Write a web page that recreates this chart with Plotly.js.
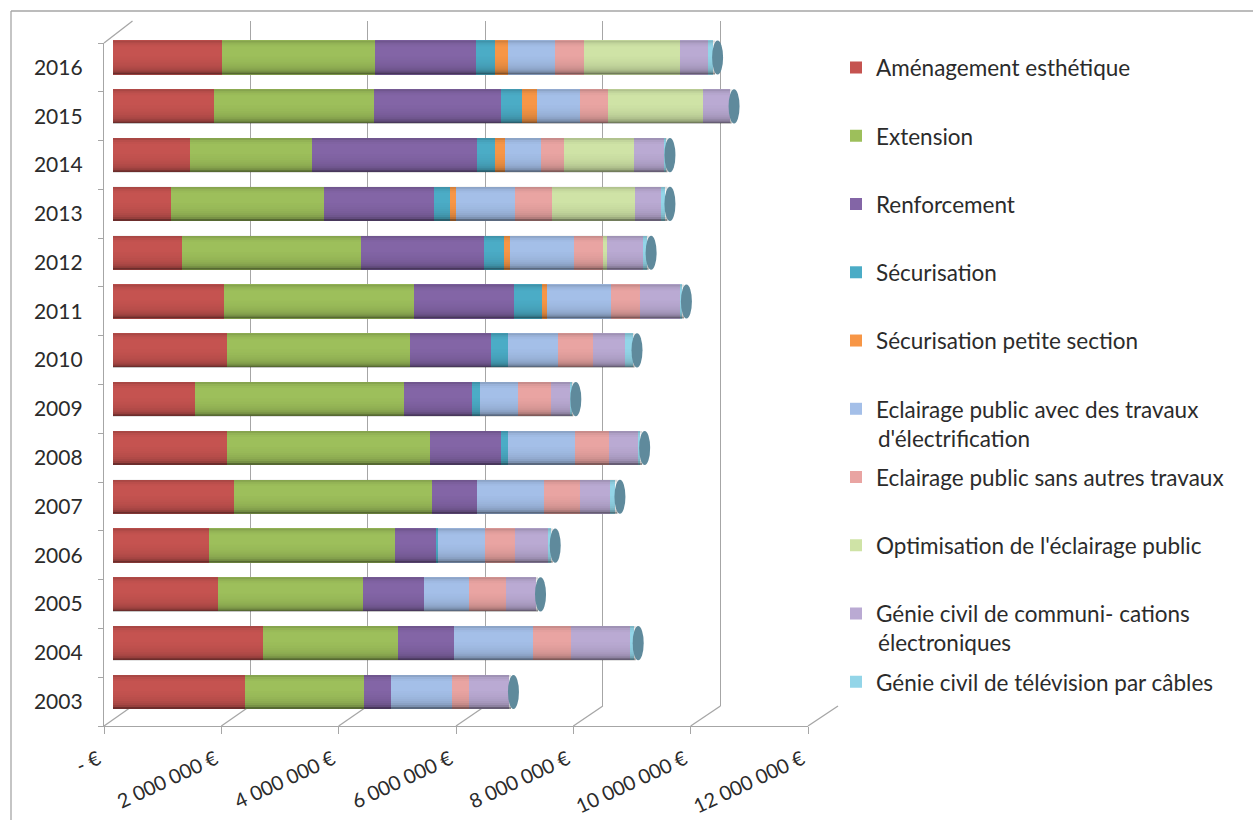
<!DOCTYPE html>
<html><head><meta charset="utf-8">
<script src="https://cdn.plot.ly/plotly-3.0.1.min.js"></script>
<style>html,body{margin:0;padding:0;background:#fff}</style></head>
<body><div id="c" style="width:1253px;height:820px"></div>
<script>
var years = ['2003','2004','2005','2006','2007','2008','2009','2010','2011','2012','2013','2014','2015','2016'];
var tickVals = [0,2000000,4000000,6000000,8000000,10000000,12000000];
var tickLabels = ['- €','2 000 000 €','4 000 000 €','6 000 000 €','8 000 000 €','10 000 000 €','12 000 000 €'];
var amenagement = [2250000,2550000,1780000,1640000,2050000,1930000,1390000,1930000,1890000,1180000,980000,1310000,1720000,1860000];
var extension = [2010000,2300000,2470000,3150000,3370000,3450000,3550000,3120000,3220000,3040000,2600000,2080000,2710000,2600000];
var renforcement = [470000,940000,1030000,710000,770000,1220000,1160000,1370000,1700000,2080000,1870000,2790000,2170000,1710000];
var securisation = [0,0,0,30000,0,120000,140000,300000,490000,350000,270000,320000,350000,330000];
var petiteSection = [0,0,0,0,0,0,0,0,70000,90000,110000,160000,260000,210000];
var eclairageTravaux = [1030000,1350000,770000,800000,1130000,1130000,650000,840000,1100000,1100000,1010000,610000,720000,800000];
var eclairageSeul = [290000,640000,630000,510000,620000,580000,550000,600000,490000,490000,630000,390000,490000,490000];
var optimisation = [0,0,0,0,0,0,0,0,0,70000,1410000,1200000,1600000,1630000];
var genieComm = [680000,1000000,510000,560000,510000,510000,330000,550000,670000,610000,440000,510000,460000,490000];
var genieTv = [0,70000,0,40000,90000,20000,20000,120000,40000,60000,70000,20000,0,80000];
var seriesValues = [amenagement,extension,renforcement,securisation,petiteSection,eclairageTravaux,eclairageSeul,optimisation,genieComm,genieTv];
var seriesNames = ['Aménagement esthétique','Extension','Renforcement','Sécurisation','Sécurisation petite section','Eclairage public avec des travaux','Eclairage public sans autres travaux',"Optimisation de l'éclairage public",'Génie civil de communi- cations','Génie civil de télévision par câbles'];
var seriesColors = ['#c55350','#9dbf5b','#8365a6','#4bacc6','#f79646','#a4bfe8','#e9a4a2','#cfe3a6','#baaad3','#93d5e8'];

var W=1253,H=820,GREY='#a6a6a6',TXT='#2b2b2b',FONT='Lato, "Open Sans", sans-serif';
function xd(a,b){return [a/W,b/W];}
function yd(top,bottom){return [1-bottom/H,1-top/H];}
var traces=[];
traces.push({type:'scatter',mode:'markers',x:[0],y:[0],xaxis:'x',yaxis:'y',marker:{opacity:0},showlegend:false,hoverinfo:'skip'});
seriesNames.forEach(function(n,i){
  traces.push({type:'bar',orientation:'h',name:n,legendgroup:'g'+i,y:years,x:seriesValues[i],xaxis:'x2',yaxis:'y2',
    marker:{color:seriesColors[i],line:{width:0}},hoverinfo:'x+name'});
});
traces.push({type:'scatter',mode:'markers',x:[0],y:years,xaxis:'x3',yaxis:'y3',marker:{opacity:0},showlegend:false,hoverinfo:'skip'});

var shapes=[];
function pline(x0,y0,x1,y1){shapes.push({type:'line',xref:'paper',yref:'paper',x0:x0/W,x1:x1/W,y0:1-y0/H,y1:1-y1/H,line:{color:GREY,width:1.3},layer:'below'});}
pline(11,11,1253,11); pline(11,11,11,820);
tickVals.forEach(function(v){
  var fx=104+v/12000000*704, bx=132.5+v/12000000*705.5;
  pline(fx,726,bx,706);
});
pline(104,43,132.5,21);
var bandAlpha=[0.14,0.06,0.02,0,0,0,0,0,0.01,0.02,0.03,0.05,0.07,0.1,0.15,0.24,0.45];
var half=0.35, unit=12000000/706;
years.forEach(function(y,i){
  var total=0; seriesValues.forEach(function(s){total+=s[i];});
  bandAlpha.forEach(function(a,k){
    if(a===0) return;
    shapes.push({type:'rect',xref:'x2',yref:'y2',x0:0,x1:total+2*unit,y0:i+half-2*half*k/bandAlpha.length,y1:i+half-2*half*(k+1)/bandAlpha.length,fillcolor:'rgba(0,0,0,'+a+')',line:{width:0},layer:'above'});
  });
  shapes.push({type:'circle',xref:'x2',yref:'y2',x0:total-1*unit,x1:total+10*unit,y0:i-half,y1:i+half,fillcolor:'#5f8a9c',line:{width:0},layer:'above'});
});

var annotations=[
 {xref:'paper',yref:'paper',x:876/W,y:1-438/H,xanchor:'left',yanchor:'middle',showarrow:false,text:"d'électrification",font:{family:FONT,size:22.5,color:TXT}},
 {xref:'paper',yref:'paper',x:876/W,y:1-642/H,xanchor:'left',yanchor:'middle',showarrow:false,text:'électroniques',font:{family:FONT,size:22.5,color:TXT}}
];

var layout={width:W,height:H,margin:{l:0,r:0,t:0,b:0,pad:0},paper_bgcolor:'#fff',plot_bgcolor:'rgba(0,0,0,0)',
 barmode:'stack',bargap:0.3,font:{family:FONT,size:20,color:TXT},showlegend:true,
 legend:{x:836/W,y:1-46.4/H,xanchor:'left',yanchor:'top',traceorder:'grouped',tracegroupgap:36,font:{family:FONT,size:22.5,color:TXT},bgcolor:'rgba(0,0,0,0)',itemclick:false,itemdoubleclick:false},
 xaxis:{domain:xd(132.5,838),range:[0,12000000],anchor:'y',tickmode:'array',tickvals:tickVals,showgrid:true,gridcolor:GREY,gridwidth:1.3,zeroline:false,showticklabels:false,ticks:'',showline:false},
 yaxis:{domain:yd(21,706),range:[0,1],anchor:'x',visible:false},
 xaxis2:{domain:xd(113,819),range:[0,12000000],anchor:'y2',visible:false,showgrid:false,zeroline:false},
 yaxis2:{domain:yd(33.1,716.4),type:'category',categoryorder:'array',categoryarray:years,range:[-0.5,13.5],anchor:'x2',visible:false},
 xaxis3:{domain:xd(104,808),range:[0,12000000],anchor:'y3',tickmode:'array',tickvals:tickVals,ticktext:tickLabels,tickangle:-25,ticks:'outside',ticklen:7,tickcolor:GREY,tickwidth:1.3,showline:true,linecolor:GREY,linewidth:1.3,showgrid:false,zeroline:false,ticklabelshift:-6,ticklabelstandoff:6,tickfont:{family:FONT,size:20,color:TXT}},
 yaxis3:{domain:yd(43,726),type:'category',categoryorder:'array',categoryarray:years,range:[-0.5,13.5],anchor:'x3',dtick:1,tickson:'boundaries',ticks:'outside',ticklen:5,tickcolor:GREY,tickwidth:1.3,showline:true,linecolor:GREY,linewidth:1.3,showgrid:false,zeroline:false,ticklabelstandoff:16,tickfont:{family:FONT,size:21,color:TXT}},
 shapes:shapes,annotations:annotations};
Plotly.newPlot('c',traces,layout,{displayModeBar:false,responsive:false});
</script></body></html>
